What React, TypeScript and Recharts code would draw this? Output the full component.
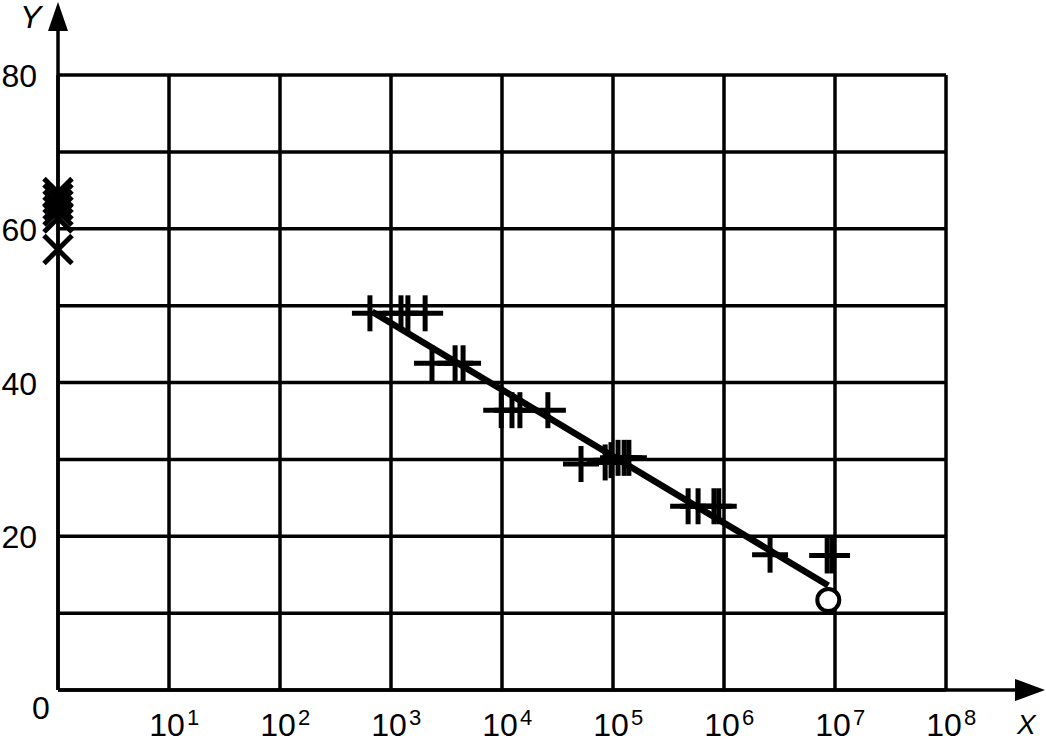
import React from 'react';
import {
  ScatterChart,
  Scatter,
  XAxis,
  YAxis,
  CartesianGrid,
  ReferenceLine,
  ReferenceDot,
} from 'recharts';

// decades on the log X axis, tens on the Y axis
const decadeTicks = [1, 1e1, 1e2, 1e3, 1e4, 1e5, 1e6, 1e7, 1e8];
const yTicks = [0, 10, 20, 30, 40, 50, 60, 70, 80];
const yLabelled = [20, 40, 60, 80];

// "+" measurements
const plusPoints = [
  { x: 646, y: 49.0 },
  { x: 1230, y: 49.0 },
  { x: 1420, y: 49.0 },
  { x: 2030, y: 49.0 },
  { x: 2340, y: 42.5 },
  { x: 3780, y: 42.5 },
  { x: 4460, y: 42.5 },
  { x: 9840, y: 36.4 },
  { x: 12300, y: 36.4 },
  { x: 14500, y: 36.4 },
  { x: 25900, y: 36.4 },
  { x: 51500, y: 29.4 },
  { x: 85000, y: 29.6 },
  { x: 96000, y: 29.9 },
  { x: 111000, y: 30.2 },
  { x: 126000, y: 30.2 },
  { x: 139000, y: 30.2 },
  { x: 475000, y: 23.9 },
  { x: 584000, y: 23.9 },
  { x: 812000, y: 23.9 },
  { x: 897000, y: 23.9 },
  { x: 2.6e6, y: 17.6 },
  { x: 8.5e6, y: 17.5 },
  { x: 9.4e6, y: 17.5 },
];

// "x" measurements sitting on the Y axis
const crossPoints = [
  { x: 1, y: 64.7 },
  { x: 1, y: 63.9 },
  { x: 1, y: 63.1 },
  { x: 1, y: 62.3 },
  { x: 1, y: 61.4 },
  { x: 1, y: 57.3 },
];

const fitLine = [
  { x: 676, y: 49.2 },
  { x: 8.7e6, y: 13.6 },
];

const endPoint = [{ x: 8.7e6, y: 11.7 }];

const FONT = 'Liberation Sans, Arial, Helvetica, sans-serif';

const Plus = (props: any) => {
  const { cx, cy } = props;
  const h = 18;
  return (
    <g stroke='#000' strokeWidth={5}>
      <line x1={cx - h} y1={cy} x2={cx + h} y2={cy} />
      <line x1={cx} y1={cy - h} x2={cx} y2={cy + h} />
    </g>
  );
};

const Cross = (props: any) => {
  const { cx, cy } = props;
  const h = 14;
  return (
    <g stroke='#000' strokeWidth={5}>
      <line x1={cx - h} y1={cy - h} x2={cx + h} y2={cy + h} />
      <line x1={cx - h} y1={cy + h} x2={cx + h} y2={cy - h} />
    </g>
  );
};

const Ring = (props: any) => {
  const { cx, cy } = props;
  return <circle cx={cx} cy={cy} r={11} fill='#fff' stroke='#000' strokeWidth={4} />;
};

const NoDot = () => <g />;

const XTick = (props: any) => {
  const { x, y, payload } = props;
  const v = payload.value;
  if (v === 1) {
    return (
      <text x={x - 17} y={y + 29} textAnchor='middle' fontSize={32} fontFamily={FONT} fill='#000'>
        0
      </text>
    );
  }
  const exp = Math.round(Math.log10(v));
  return (
    <g fontFamily={FONT} fill='#000'>
      <text x={x - 2} y={y + 46} textAnchor='middle' fontSize={32}>
        10
      </text>
      <text x={x + 18} y={y + 35} fontSize={22}>
        {exp}
      </text>
    </g>
  );
};

const YTick = (props: any) => {
  const { x, y, payload } = props;
  if (!yLabelled.includes(payload.value)) return <g />;
  return (
    <text x={x - 21} y={y + 12} textAnchor='end' fontSize={32} fontFamily={FONT} fill='#000'>
      {payload.value}
    </text>
  );
};

const ArrowUp = (props: any) => {
  const { cx, cy } = props;
  return (
    <g>
      <polygon points={`${cx},${cy} ${cx - 10},${cy + 29} ${cx + 10},${cy + 29}`} fill='#000' />
      <text x={cx - 38} y={cy + 26} fontSize={32} fontStyle='italic' fontFamily={FONT} fill='#000'>
        Y
      </text>
    </g>
  );
};

const ArrowRight = (props: any) => {
  const { cx, cy } = props;
  return (
    <g>
      <polygon points={`${cx},${cy} ${cx - 30},${cy - 11} ${cx - 30},${cy + 11}`} fill='#000' />
      <text x={cx - 28} y={cy + 44} fontSize={28} fontStyle='italic' fontFamily={FONT} fill='#000'>
        X
      </text>
    </g>
  );
};

export default function App() {
  return (
    <div style={{ position: 'absolute', left: 0, top: 0, background: '#fff' }}>
      <ScatterChart
        width={1046}
        height={742}
        margin={{ top: 75, right: 100, bottom: 0, left: 0 }}
      >
        <CartesianGrid stroke='#000' strokeWidth={3.5} />
        <XAxis
          type='number'
          dataKey='x'
          scale='log'
          domain={[1, 1e8]}
          ticks={decadeTicks}
          interval={0}
          height={52}
          axisLine={false}
          tickLine={false}
          tickSize={0}
          tickMargin={0}
          tick={<XTick />}
        />
        <YAxis
          type='number'
          dataKey='y'
          domain={[0, 80]}
          ticks={yTicks}
          interval={0}
          width={58}
          axisLine={false}
          tickLine={false}
          tickSize={0}
          tickMargin={0}
          tick={<YTick />}
        />
        <ReferenceLine
          segment={[
            { x: 1, y: 0 },
            { x: 4.2e8, y: 0 },
          ]}
          stroke='#000'
          strokeWidth={3.5}
          ifOverflow='visible'
        />
        <ReferenceLine
          segment={[
            { x: 1, y: 0 },
            { x: 1, y: 86 },
          ]}
          stroke='#000'
          strokeWidth={3.5}
          ifOverflow='visible'
        />
        <ReferenceDot x={1} y={89.5} ifOverflow='visible' shape={<ArrowUp />} />
        <ReferenceDot x={7.8e8} y={0} ifOverflow='visible' shape={<ArrowRight />} />
        <Scatter
          data={fitLine}
          line={{ stroke: '#000', strokeWidth: 6.5 }}
          shape={<NoDot />}
          isAnimationActive={false}
        />
        <Scatter data={plusPoints} shape={<Plus />} isAnimationActive={false} />
        <Scatter data={crossPoints} shape={<Cross />} isAnimationActive={false} />
        <Scatter data={endPoint} shape={<Ring />} isAnimationActive={false} />
      </ScatterChart>
    </div>
  );
}
